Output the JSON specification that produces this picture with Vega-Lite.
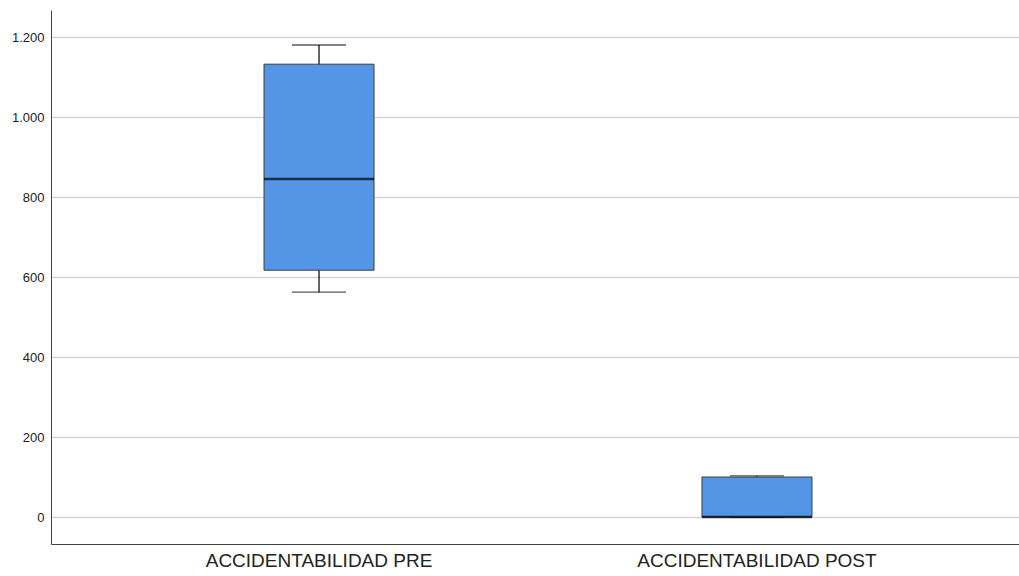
{
  "$schema": "https://vega.github.io/schema/vega-lite/v6.json",
  "autosize": {"type": "none"},
  "padding": {"left": 51, "top": 10, "right": 0, "bottom": 32},
  "width": 974,
  "height": 534,
  "background": "white",
  "config": {"view": {"stroke": null}},
  "data": {
    "values": [
      {"grupo": "ACCIDENTABILIDAD PRE", "min": 562, "q1": 617, "mediana": 845, "q3": 1132, "max": 1180},
      {"grupo": "ACCIDENTABILIDAD POST", "min": 0, "q1": 0, "mediana": 0, "q3": 100, "max": 103}
    ]
  },
  "encoding": {
    "x": {
      "field": "grupo",
      "type": "nominal",
      "sort": null,
      "scale": {"paddingInner": 0, "paddingOuter": 0.112},
      "axis": {
        "title": null,
        "labelAngle": 0,
        "labelFont": "Liberation Sans",
        "labelFontSize": 19,
        "labelLimit": 400,
        "labelColor": "#222",
        "labelPadding": 7,
        "ticks": false,
        "domainColor": "#444",
        "domainWidth": 1,
        "grid": false
      }
    }
  },
  "layer": [
    {
      "mark": {"type": "rule", "color": "#111", "strokeWidth": 1.3},
      "encoding": {
        "y": {
          "field": "min",
          "type": "quantitative",
          "scale": {"domain": [-67.5, 1267.5], "nice": false, "zero": false},
          "axis": {
            "title": null,
            "values": [0, 200, 400, 600, 800, 1000, 1200],
            "labelExpr": "replace(format(datum.value, ','), ',', '.')",
            "labelFont": "Liberation Sans",
            "labelFontSize": 13,
            "labelColor": "#222",
            "labelPadding": 7,
            "ticks": false,
            "domainColor": "#444",
            "domainWidth": 1,
            "grid": true,
            "gridColor": "#d2d2d2",
            "gridWidth": 1.5
          }
        },
        "y2": {"field": "max"}
      }
    },
    {
      "mark": {"type": "tick", "color": "#111", "size": 54, "thickness": 1.3},
      "encoding": {"y": {"field": "min", "type": "quantitative"}}
    },
    {
      "mark": {"type": "tick", "color": "#111", "size": 54, "thickness": 1.3},
      "encoding": {"y": {"field": "max", "type": "quantitative"}}
    },
    {
      "mark": {"type": "bar", "size": 110, "fill": "#5495e5", "stroke": "#3d3d3d", "strokeWidth": 1},
      "encoding": {
        "y": {"field": "q1", "type": "quantitative"},
        "y2": {"field": "q3"}
      }
    },
    {
      "mark": {"type": "tick", "color": "#000", "size": 110, "thickness": 2.6},
      "encoding": {"y": {"field": "mediana", "type": "quantitative"}}
    }
  ]
}
